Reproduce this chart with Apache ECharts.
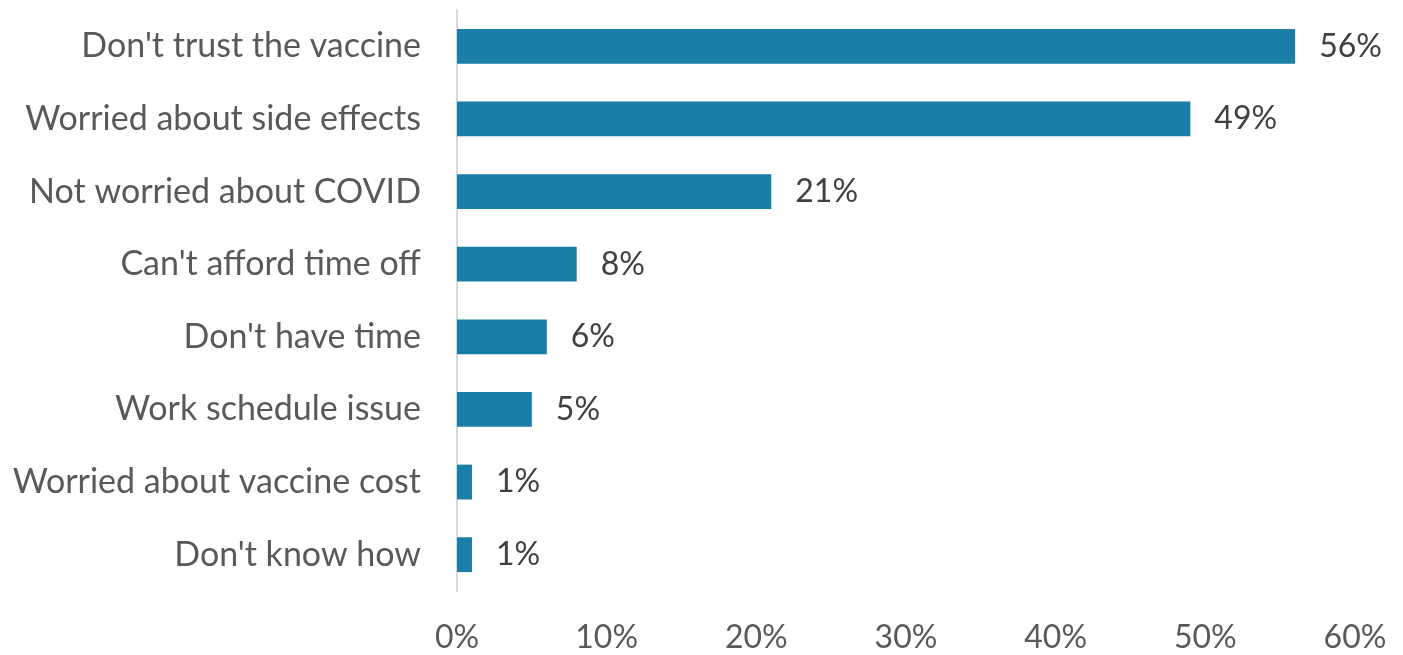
<!DOCTYPE html>
<html><head><meta charset="utf-8">
<script src="https://cdn.jsdelivr.net/npm/echarts@6/dist/echarts.min.js"></script>
<style>html,body{margin:0;padding:0;background:#fff}#c{width:1403px;height:655px}</style>
</head><body><div id="c"></div>
<script>
const categories = ["Don't trust the vaccine","Worried about side effects","Not worried about COVID","Can't afford time off","Don't have time","Work schedule issue","Worried about vaccine cost","Don't know how"];
const values = [56,49,21,8,6,5,1,1];
const xTicks = [0,10,20,30,40,50,60];
const FONT = 'Lato';
const chart = echarts.init(document.getElementById('c'));
chart.setOption({
  animation:false,
  grid:{left:457,right:48,top:10,bottom:64,containLabel:false},
  xAxis:{type:'value',min:xTicks[0],max:xTicks[xTicks.length-1],interval:10,
    splitLine:{show:false},axisLine:{show:false},axisTick:{show:false},
    axisLabel:{formatter:'{value}%',fontFamily:FONT,fontSize:32,color:'#595959',margin:31}},
  yAxis:{type:'category',inverse:true,data:categories,
    axisLine:{show:true,lineStyle:{color:'#d9d9d9',width:2}},axisTick:{show:false},
    axisLabel:{fontFamily:FONT,fontSize:34,color:'#595959',margin:36}},
  series:[{type:'bar',data:values,barWidth:'48%',
    itemStyle:{color:'#1a7ea6'},
    label:{show:true,position:'right',distance:24,formatter:'{c}%',fontFamily:FONT,fontSize:32,color:'#404040'}}]
});
</script></body></html>
